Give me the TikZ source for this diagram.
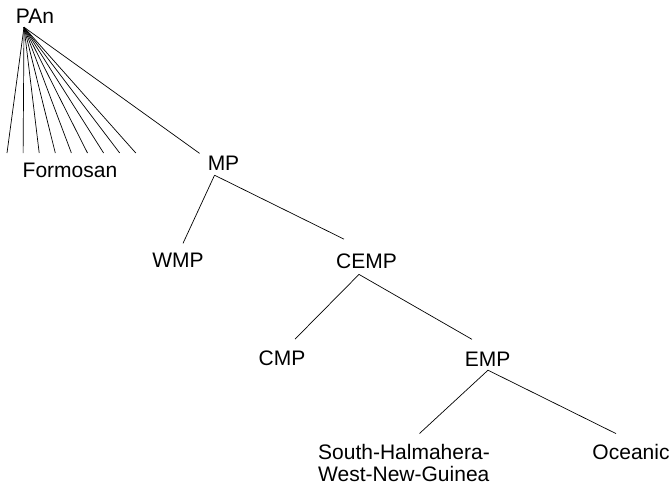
\documentclass[tikz,border=0pt]{standalone}
\usepackage{fontspec}
\setmainfont{Liberation Sans}
\usepackage{tikz}

\tikzset{
  lang/.style={anchor=base, inner sep=0pt, font=\fontsize{21}{22}\selectfont},
  branch/.style={line width=0.7pt},
}

\begin{document}
\begin{tikzpicture}[x=1pt,y=-1pt]
  \useasboundingbox (0,0) rectangle (672,485);
  \node (pan) [lang] at (35,23) {PAn};
  \node (formosan) [lang] at (70,177) {Formosan};
  \node (mp) [lang] at (223.5,170) {MP};
  \node (wmp) [lang] at (178,267) {WMP};
  \node (cemp) [lang] at (366.5,268) {CEMP};
  \node (cmp) [lang] at (282,365) {CMP};
  \node (emp) [lang] at (487.5,366) {EMP};
  \node (shwng) [lang, anchor=north west, align=left] at (318,444) {South-Halmahera-\\West-New-Guinea};
  \node (oceanic) [lang] at (631,459) {Oceanic};
  \coordinate (pan-root) at ([shift={(-11,4)}]pan.south);
  \coordinate (mp-root) at ([shift={(7,5)}]mp.south west);
  \coordinate (cemp-root) at ([shift={(-7.5,6)}]cemp.south);
  \coordinate (emp-root) at ([shift={(0.5,4)}]emp.south);
  \foreach \i in {0,...,8} {
    \coordinate (f\i) at (7+16.1*\i,153);
    \draw[branch] (pan-root) -- (f\i);
  }
  \draw[branch] (pan-root) to ([shift={(-8,-2)}]mp.north west);
  \draw[branch] (mp-root) to ([shift={(5,-9)}]wmp.north);
  \draw[branch] (mp-root) to ([shift={(-22.5,-14)}]cemp.north);
  \draw[branch] (cemp-root) to ([shift={(13,-11)}]cmp.north);
  \draw[branch] (cemp-root) to ([shift={(-15.5,-12)}]emp.north);
  \draw[branch] (emp-root) to ([shift={(15.5,-10.5)}]shwng.north);
  \draw[branch] (emp-root) to ([shift={(-15,-10)}]oceanic.north);
\end{tikzpicture}
\end{document}
